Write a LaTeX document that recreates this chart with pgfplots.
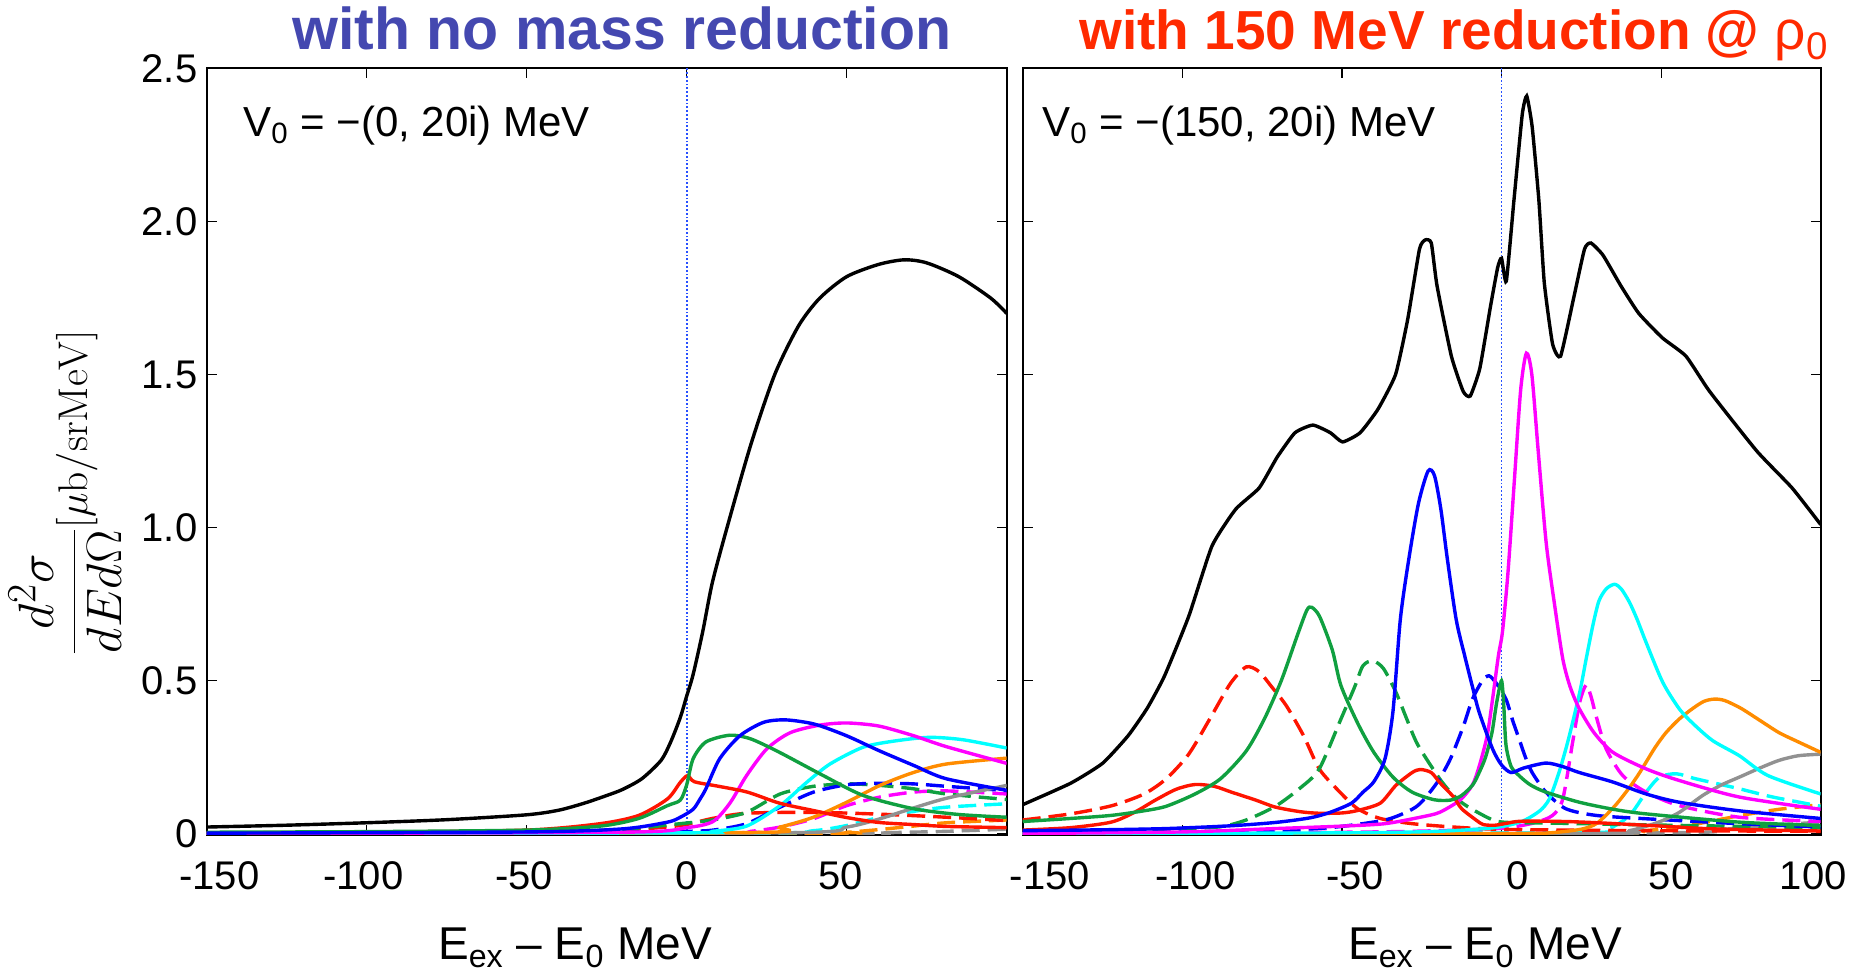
\documentclass[border=0pt]{standalone}
\usepackage[no-math]{fontspec}
\setmainfont{Liberation Sans}
\usepackage{pgfplots}
\pgfplotsset{compat=1.18}
\definecolor{cblack}{RGB}{0,0,0}
\definecolor{cred}{RGB}{255,20,0}
\definecolor{cgreen}{RGB}{16,160,64}
\definecolor{cblue}{RGB}{0,0,255}
\definecolor{cmag}{RGB}{255,0,255}
\definecolor{ccyan}{RGB}{0,255,255}
\definecolor{corange}{RGB}{255,140,0}
\definecolor{cgray}{RGB}{145,145,145}
\definecolor{titblue}{RGB}{68,72,176}
\definecolor{titred}{RGB}{255,42,0}
\definecolor{dotblue}{RGB}{40,80,255}
\newcommand{\shr}[2]{\hspace*{#1}#2}
\newcommand{\shl}[2]{#2\hspace*{#1}}
\tikzset{
  sl/.style={line width=1.7pt, smooth, tension=0.45},
  dl/.style={line width=1.7pt, smooth, tension=0.45, dash pattern=on 9pt off 4pt},
}
\pgfplotsset{
  myaxis/.style={
    scale only axis, height=383.25pt,
    xmin=-150, xmax=100, ymin=-0.004, ymax=2.5,
    axis line style={line width=1pt},
    tick style={black, line width=0.6pt},
    major tick length=5pt,
    tick align=inside,
    xtick={-150,-100,-50,0,50,100},
    ytick={0,0.5,1,1.5,2,2.5},
    ticklabel style={font=\fontsize{20}{24}\selectfont},
    xticklabel style={anchor=base, yshift=-27.5pt},
    yticklabel style={anchor=east, inner sep=0pt, xshift=-4.5pt},
    every axis plot/.append style={mark=none},
  }
}
\begin{document}
\begin{tikzpicture}
\useasboundingbox (0,0) rectangle (931.5pt,486.5pt);
% ---------------- LEFT PANEL ----------------
\begin{axis}[myaxis, at={(103.35pt,69pt)}, anchor=south west, width=400pt,
  xticklabels={\shr{12.6pt}{-150},\shl{3.4pt}{-100},\shl{2.7pt}{-50},0,\shl{6pt}{50},{}},
  yticklabels={0,0.5,1.0,1.5,2.0,2.5}]
\addplot[dotblue, line width=0.9pt, densely dotted] coordinates {(0,-0.1) (0,2.6)};
% dashed
\addplot[cgray, dl] coordinates {(-150,0) (50,0.001) (60.4,0.003) (81.2,0.008) (100,0.015)};
\addplot[corange, dl] coordinates {(-150,0) (40,0.002) (50,0.005) (60.4,0.014) (70.8,0.025) (81.2,0.036) (100,0.045)};
\addplot[ccyan, dl] coordinates {(-150,0) (20,0.002) (39.6,0.01) (50,0.027) (60.4,0.054) (70.8,0.073) (81.2,0.087) (100,0.098)};
\addplot[cred, dl] coordinates {(-150,0.002) (-50,0.006) (-20,0.012) (-2,0.027) (8,0.05) (18.7,0.067) (39.6,0.07) (60.4,0.064) (81.2,0.054) (100,0.043)};
\addplot[cmag, dl] coordinates {(-150,0) (10,0.003) (20,0.008) (29.2,0.022) (39.6,0.049) (50,0.092) (60.4,0.12) (70.8,0.136) (81.2,0.14) (100,0.13)};
\addplot[cgreen, dl] coordinates {(-150,0.002) (-50,0.006) (-20,0.015) (-2,0.033) (8,0.045) (18.7,0.07) (29.2,0.13) (39.6,0.155) (50,0.163) (60.4,0.158) (70.8,0.147) (81.2,0.13) (100,0.112)};
\addplot[cblue, dl] coordinates {(-150,0.001) (-20,0.005) (0,0.008) (8.3,0.012) (18.7,0.033) (29.2,0.087) (39.6,0.136) (50,0.16) (60.4,0.165) (70.8,0.163) (81.2,0.155) (100,0.141)};
% solid
\addplot[cgray, sl] coordinates {(-150,0) (30,0.003) (50,0.022) (60.4,0.049) (70.8,0.084) (81.2,0.116) (100,0.158)};
\addplot[corange, sl] coordinates {(-150,0) (20,0.004) (29.2,0.022) (39.6,0.054) (50,0.103) (60.4,0.158) (70.8,0.2) (81.2,0.228) (100,0.247)};
\addplot[ccyan, sl] coordinates {(-150,0) (0,0.003) (8,0.008) (18.7,0.025) (29.2,0.092) (37.5,0.168) (44.8,0.228) (55.2,0.283) (65.6,0.304) (76,0.315) (86.4,0.307) (100,0.28)};
\addplot[cmag, sl] coordinates {(-150,0.001) (-20,0.005) (0,0.02) (8.2,0.04) (13.5,0.1) (18.7,0.19) (25,0.277) (32.3,0.33) (41.6,0.355) (50,0.362) (60,0.352) (71,0.32) (81,0.285) (100,0.23)};
\addplot[cred, sl] coordinates {(-150,0.003) (-100,0.005) (-50,0.012) (-27,0.033) (-15,0.06) (-6,0.114) (-2,0.168) (0.3,0.19) (2.4,0.17) (10,0.155) (19,0.136) (29,0.1) (40,0.075) (50,0.053) (60,0.037) (71,0.03) (81,0.024) (100,0.02)};
\addplot[cgreen, sl] coordinates {(-150,0.005) (-100,0.007) (-50,0.012) (-27,0.025) (-15,0.05) (-6,0.092) (-2,0.11) (0,0.16) (2,0.245) (6,0.3) (13.5,0.322) (20,0.31) (29,0.266) (42.7,0.19) (55.2,0.125) (70.8,0.082) (85,0.063) (100,0.054)};
\addplot[cblue, sl] coordinates {(-150,0.002) (-50,0.006) (-20,0.016) (-6,0.038) (-2,0.054) (2,0.08) (4.2,0.114) (6,0.147) (10.3,0.245) (16.6,0.32) (24,0.364) (31,0.372) (40,0.358) (50,0.32) (60,0.272) (71,0.223) (81,0.18) (100,0.142)};
\addplot[cblack, sl] coordinates {(-150,0.022) (-125,0.028) (-100,0.036) (-75,0.046) (-50,0.062) (-40,0.077) (-32,0.1) (-25,0.125) (-20,0.145) (-14,0.18) (-8,0.24) (-5,0.3) (-2,0.38) (0,0.45) (2,0.52) (5,0.66) (8,0.82) (12.6,1.0) (20,1.27) (27.5,1.5) (35,1.66) (41.6,1.75) (50,1.82) (60,1.86) (68,1.875) (75,1.865) (85,1.82) (95,1.75) (100,1.70)};
\end{axis}
% ---------------- RIGHT PANEL ----------------
\begin{axis}[myaxis, at={(511.35pt,69pt)}, anchor=south west, width=399pt,
  xticklabels={\shr{27.2pt}{-150},\shr{13pt}{-100},\shr{13.4pt}{-50},\shr{16.2pt}{0},\shr{10pt}{50},\shl{7.4pt}{100}},
  yticklabels={}]
\addplot[dotblue, line width=0.9pt, densely dotted] coordinates {(0,-0.1) (0,2.6)};
% dashed
\addplot[cgray, dl] coordinates {(-150,0) (50,0.003) (70,0.015) (85,0.028) (100,0.038)};
\addplot[corange, dl] coordinates {(-150,0) (30,0.002) (45,0.01) (60,0.03) (75,0.06) (87,0.08) (100,0.095)};
\addplot[ccyan, dl] coordinates {(-150,0) (20,0.003) (33,0.015) (40.1,0.06) (45.3,0.136) (49.5,0.185) (54.8,0.196) (60.7,0.18) (67,0.165) (74.5,0.147) (85,0.12) (100,0.09)};
\addplot[cmag, dl] coordinates {(-150,0) (-50,0.005) (-20,0.01) (0,0.018) (10,0.035) (16,0.06) (19.2,0.114) (22.3,0.3) (24.5,0.43) (26.5,0.486) (28,0.45) (29.6,0.386) (32.8,0.277) (38,0.19) (45.3,0.136) (55.7,0.092) (74.5,0.054) (100,0.04)};
\addplot[cred, dl] coordinates {(-150,0.045) (-135,0.065) (-122,0.092) (-112,0.13) (-105,0.18) (-98,0.26) (-91.4,0.375) (-85,0.49) (-80,0.545) (-76,0.53) (-72,0.48) (-67.4,0.418) (-62,0.32) (-57.1,0.212) (-51,0.14) (-45.1,0.082) (-38,0.05) (-28,0.033) (-15,0.022) (-2,0.015) (20,0.012) (50,0.01) (100,0.008)};
\addplot[cgreen, dl] coordinates {(-150,0.008) (-120,0.012) (-100,0.017) (-88,0.023) (-80,0.045) (-70.8,0.09) (-63,0.15) (-57.1,0.212) (-50.3,0.375) (-46,0.48) (-43.4,0.549) (-40.3,0.565) (-37,0.54) (-33.1,0.463) (-29.5,0.37) (-26.2,0.29) (-19.4,0.18) (-15,0.125) (-10.8,0.09) (-2.2,0.043) (5,0.036) (15,0.035) (40,0.03) (70,0.025) (100,0.02)};
\addplot[cblue, dl] coordinates {(-150,0.003) (-100,0.006) (-70,0.012) (-53.7,0.02) (-36.5,0.045) (-28,0.08) (-24.5,0.11) (-20,0.17) (-16,0.245) (-12,0.35) (-9.1,0.44) (-6,0.5) (-3.9,0.516) (-1.5,0.49) (1.4,0.44) (3.5,0.37) (5.5,0.31) (7.5,0.25) (9.6,0.2) (13.9,0.136) (20.1,0.082) (29.6,0.06) (45.3,0.049) (74.5,0.033) (100,0.022)};
% solid
\addplot[cgray, sl] coordinates {(-150,0) (30,0.001) (40,0.01) (49.2,0.038) (55.7,0.07) (63,0.125) (69,0.16) (74.5,0.185) (81,0.215) (87,0.24) (93,0.255) (100,0.26)};
\addplot[corange, sl] coordinates {(-150,0) (0,0) (15,0.003) (25,0.015) (30,0.035) (35.6,0.092) (40,0.15) (43.3,0.2) (48,0.28) (51.5,0.33) (55.7,0.375) (60,0.41) (63.5,0.433) (66.8,0.44) (70,0.435) (75,0.41) (81,0.37) (87,0.33) (93,0.3) (100,0.266)};
\addplot[ccyan, sl] coordinates {(-150,0) (-50,0.003) (-20,0.008) (-2.2,0.02) (6.3,0.04) (12,0.075) (15,0.114) (18,0.2) (21,0.31) (24.5,0.462) (26.5,0.57) (28.6,0.68) (30.5,0.76) (32.8,0.8) (35.4,0.815) (37.5,0.8) (40.1,0.756) (42.5,0.7) (45.3,0.625) (50.5,0.495) (55.7,0.408) (60,0.36) (66.2,0.304) (74.5,0.255) (83.5,0.19) (100,0.13)};
\addplot[cmag, sl] coordinates {(-150,0.001) (-100,0.006) (-70.8,0.017) (-50,0.025) (-36.5,0.033) (-25,0.055) (-19.4,0.07) (-13,0.11) (-9.1,0.16) (-7,0.22) (-4.5,0.32) (-2.8,0.44) (-1,0.58) (0.3,0.66) (2,0.85) (4,1.15) (6,1.45) (7.8,1.57) (9.5,1.5) (11.5,1.25) (14,0.95) (16.6,0.75) (19.2,0.571) (21.5,0.48) (24.4,0.408) (29,0.33) (34.9,0.266) (45.3,0.212) (55.7,0.174) (74.5,0.12) (100,0.08)};
\addplot[cred, sl] coordinates {(-150,0.012) (-135,0.02) (-122.3,0.038) (-115,0.07) (-108.6,0.109) (-102,0.145) (-96,0.161) (-90,0.155) (-84.6,0.136) (-77,0.11) (-70.8,0.087) (-63,0.072) (-57.1,0.067) (-50,0.068) (-45.1,0.076) (-38,0.1) (-33.1,0.158) (-28,0.2) (-25.4,0.21) (-22,0.2) (-19.4,0.168) (-15,0.12) (-12.5,0.082) (-8,0.045) (-5.7,0.03) (-2,0.028) (2,0.035) (6.3,0.041) (20,0.04) (32,0.035) (50,0.025) (66.4,0.016) (100,0.009)};
\addplot[cgreen, sl] coordinates {(-150,0.04) (-135,0.05) (-122.3,0.06) (-112,0.075) (-105,0.09) (-96,0.13) (-88,0.18) (-80,0.27) (-74.3,0.375) (-69,0.5) (-64,0.647) (-61,0.73) (-59.5,0.74) (-57,0.71) (-53,0.6) (-50.3,0.484) (-45,0.36) (-40,0.266) (-34,0.185) (-28,0.136) (-21,0.111) (-16,0.11) (-12.5,0.125) (-9,0.16) (-7,0.2) (-5,0.25) (-3,0.33) (-1.5,0.43) (0,0.5) (0.7,0.42) (1.4,0.29) (3,0.22) (5.5,0.19) (9,0.16) (13.9,0.136) (24.4,0.103) (35,0.08) (45.3,0.065) (74.5,0.038) (100,0.027)};
\addplot[cblue, sl] coordinates {(-150,0.01) (-125,0.013) (-105,0.017) (-85,0.026) (-70.8,0.037) (-60,0.052) (-53.7,0.07) (-47,0.1) (-43.4,0.136) (-40,0.17) (-36.5,0.245) (-34,0.4) (-31.7,0.70) (-29,0.9) (-26,1.08) (-23,1.185) (-21,1.17) (-19,1.06) (-17,0.9) (-14.2,0.70) (-11.5,0.58) (-9.1,0.48) (-7,0.397) (-2.8,0.277) (0,0.225) (3,0.2) (7,0.215) (13.9,0.231) (19,0.22) (24.4,0.2) (34.9,0.169) (45.3,0.13) (55.7,0.103) (74.5,0.075) (100,0.05)};
\addplot[cblack, line width=1.7pt, smooth, tension=0.3] coordinates {(-150,0.095) (-135,0.165) (-125,0.23) (-117,0.32) (-111,0.41) (-105.6,0.515) (-98,0.71) (-90.7,0.94) (-83.3,1.06) (-75.9,1.13) (-70.3,1.23) (-64.7,1.31) (-59.1,1.335) (-53.6,1.31) (-49.8,1.28) (-44.3,1.31) (-38.7,1.387) (-33.2,1.5) (-29.4,1.68) (-25.7,1.91) (-23.9,1.94) (-22,1.93) (-20.2,1.79) (-15.7,1.56) (-12,1.445) (-9.8,1.43) (-6.8,1.52) (-3.5,1.72) (-1.2,1.85) (0,1.88) (1.5,1.805) (3.9,2.07) (6.5,2.35) (7.9,2.41) (9.6,2.31) (11.7,2.07) (13.4,1.8) (16,1.6) (18.5,1.56) (22.6,1.75) (26,1.91) (28,1.93) (31.8,1.89) (37.4,1.79) (43,1.70) (50.4,1.62) (57.8,1.56) (65.2,1.445) (80,1.25) (91,1.13) (100,1.01)};
\end{axis}
% ---------------- TEXTS ----------------
\node[anchor=base, text=titblue, font=\fontsize{29.5}{33}\selectfont\bfseries, inner sep=0pt] at (311pt,461.5pt) {with no mass reduction};
\node[anchor=base, text=titred, font=\fontsize{27.5}{32}\selectfont\bfseries, inner sep=0pt] at (727pt,461.5pt) {with 150 MeV reduction @ {\mdseries ρ\textsubscript{0}}};
\node[anchor=base west, font=\fontsize{21}{25}\selectfont, inner sep=0pt] at (121.5pt,418pt) {V\textsubscript{0} = −(0, 20i) MeV};
\node[anchor=base west, font=\fontsize{21}{25}\selectfont, inner sep=0pt] at (521pt,418pt) {V\textsubscript{0} = −(150, 20i) MeV};
\node[anchor=base, font=\fontsize{23}{27}\selectfont, inner sep=0pt] at (287.5pt,6.5pt) {E\textsubscript{ex} – E\textsubscript{0} MeV};
\node[anchor=base, font=\fontsize{23}{27}\selectfont, inner sep=0pt] at (742.5pt,6.5pt) {E\textsubscript{ex} – E\textsubscript{0} MeV};
\node[rotate=90, inner sep=0pt] at (32.5pt,240pt) {{\fontsize{29}{32}\selectfont$\displaystyle\frac{d^2\sigma}{dEd\Omega}$}{\fontsize{20}{24}\selectfont$[\mu\mathrm{b/srMeV}]$}};
\end{tikzpicture}
\end{document}
